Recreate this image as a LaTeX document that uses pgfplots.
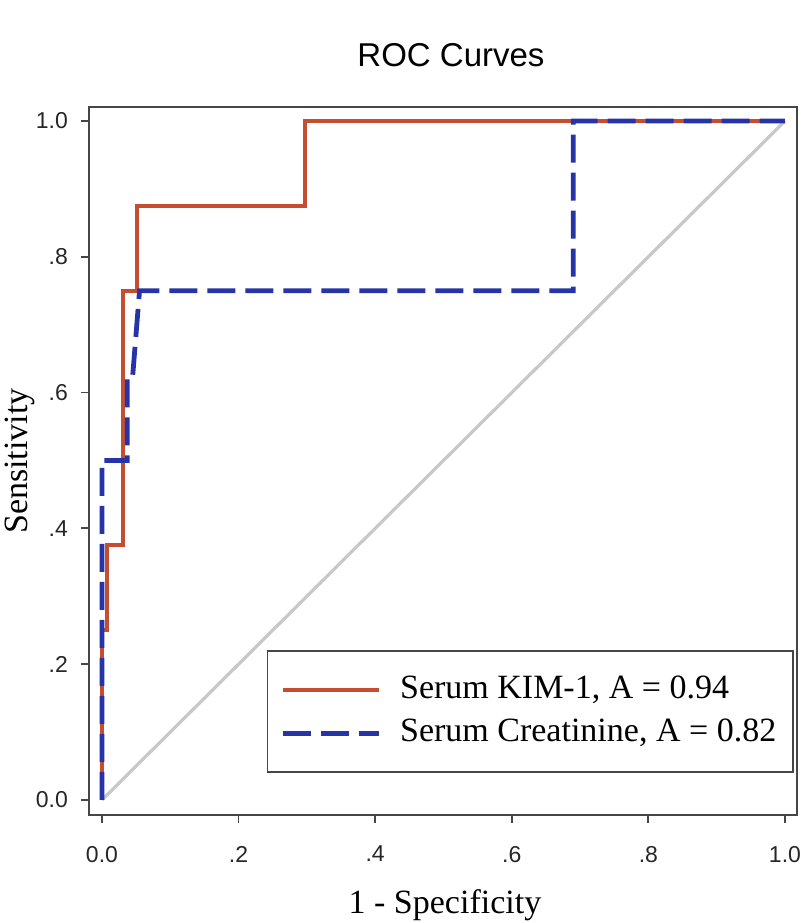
\documentclass[border=0pt]{standalone}
\usepackage{pgfplots}
\pgfplotsset{compat=1.18}
\usepackage{fontspec}
\setmainfont{Liberation Serif}
\setsansfont{Liberation Sans}

\definecolor{kimred}{RGB}{198,78,48}
\definecolor{creablue}{RGB}{38,52,168}
\definecolor{axisgray}{RGB}{70,70,70}
\definecolor{diaggray}{RGB}{200,200,200}

\begin{document}
\begin{tikzpicture}
\begin{axis}[
    scale only axis,
    width=354pt, height=354pt,
    xmin=-0.019, xmax=1.0176,
    ymin=-0.0221, ymax=1.0206,
    xtick={0,0.2,0.4,0.6,0.8,1},
    xticklabels={0.0,.2,.4,.6,.8,1.0},
    ytick={0,0.2,0.4,0.6,0.8,1},
    yticklabels={0.0,.2,.4,.6,.8,1.0},
    xtick pos=bottom, ytick pos=left,
    tick align=outside,
    major tick length=4pt,
    axis line style={axisgray, line width=0.9pt},
    every tick/.style={axisgray, line width=0.9pt},
    /pgf/number format/assume math mode=true,
    tick label style={font=\sffamily\fontsize{11.5}{13}\selectfont, text=black!85},
    xticklabel style={yshift=-8pt},
    yticklabel style={xshift=-3pt},
    title={ROC Curves},
    title style={font=\sffamily\fontsize{16.5}{19}\selectfont, at={(axis description cs:0.5,1)}, anchor=center, yshift=20pt, xshift=4pt},
    xlabel={1 - Specificity},
    xlabel style={font=\fontsize{17}{20}\selectfont, at={(axis description cs:0.5,0)}, anchor=center, yshift=-45pt, xshift=1pt},
    ylabel={Sensitivity},
    ylabel style={font=\fontsize{17}{20}\selectfont, at={(axis description cs:-0.087,0.5)}, anchor=base},
    legend style={
        at={(rel axis cs:0.9958,0.0593)}, anchor=south east,
        draw=axisgray, line width=0.8pt,
        font=\fontsize{17}{20}\selectfont,
        inner xsep=6.5pt, inner ysep=9.5pt,
        row sep=1.5pt,
        nodes={inner sep=2pt, text height=12pt, text depth=4pt},
        /tikz/every odd column/.append style={column sep=7.5pt},
    },
    legend cell align=left,
    legend image code/.code={\draw[#1] (0pt,0pt) -- (48pt,0pt);},
]
% chance line
\addplot[diaggray, line width=1.6pt, forget plot] coordinates {(0,0)(1,1)};

\addplot[kimred, line width=2pt, solid] coordinates {
    (0,0)(0,0.25)(0.007,0.25)(0.007,0.375)(0.031,0.375)(0.031,0.75)
    (0.051,0.75)(0.051,0.875)(0.297,0.875)(0.297,1)(1,1)
};
\addlegendentry{Serum KIM-1, A = 0.94}

\addplot[creablue, line width=2.4pt, dash pattern=on 14pt off 5pt] coordinates {
    (0,0)(0,0.5)(0.037,0.5)(0.037,0.625)(0.045,0.625)(0.055,0.75)
    (0.69,0.75)(0.69,1)(1,1)
};
\addlegendentry{Serum Creatinine, A = 0.82}
\end{axis}
\pgfresetboundingbox
\path[use as bounding box]
    ([xshift=-44.5pt,yshift=-54pt]current axis.south west)
    rectangle ([xshift=1.5pt,yshift=53.5pt]current axis.north east);
\end{tikzpicture}
\end{document}
